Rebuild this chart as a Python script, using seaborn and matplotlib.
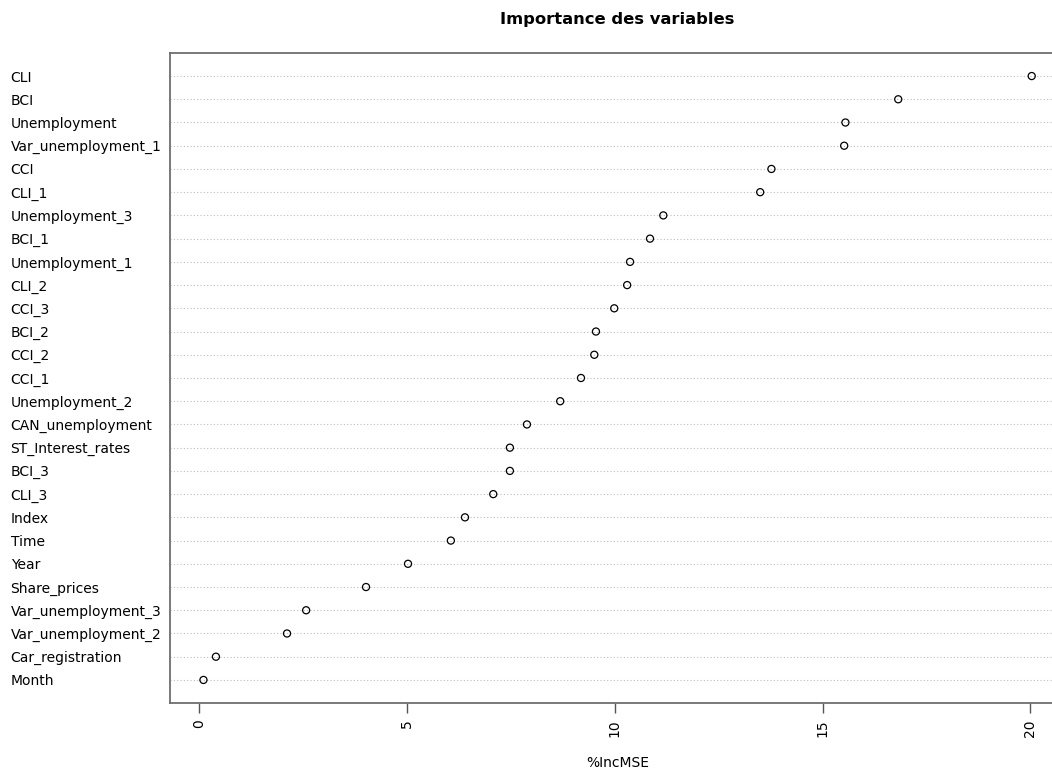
import matplotlib
matplotlib.use("Agg")
import matplotlib.pyplot as plt
import seaborn as sns
import pandas as pd

variables = ["CLI", "BCI", "Unemployment", "Var_unemployment_1", "CCI", "CLI_1",
             "Unemployment_3", "BCI_1", "Unemployment_1", "CLI_2", "CCI_3", "BCI_2",
             "CCI_2", "CCI_1", "Unemployment_2", "CAN_unemployment", "ST_Interest_rates",
             "BCI_3", "CLI_3", "Index", "Time", "Year", "Share_prices",
             "Var_unemployment_3", "Var_unemployment_2", "Car_registration", "Month"]
inc_mse = [20.03, 16.82, 15.55, 15.52, 13.77, 13.50, 11.17, 10.85, 10.37, 10.30,
           9.99, 9.55, 9.51, 9.19, 8.69, 7.89, 7.48, 7.48, 7.08, 6.40, 6.06,
           5.03, 4.02, 2.58, 2.12, 0.41, 0.11]
x_ticks = [0, 5, 10, 15, 20]

df = pd.DataFrame({"variable": variables, "IncMSE": inc_mse})

sns.set_style("white")
plt.rcParams['font.family'] = ['DejaVu Sans']
plt.rcParams['text.color'] = 'black'
plt.rcParams['axes.labelcolor'] = 'black'

fig = plt.figure(figsize=(10.52, 7.70), dpi=100)
ax = fig.add_axes([0.1619, 0.0874, 0.8503, 0.8434])

lo, hi = min(inc_mse), max(inc_mse)
ext = 0.04 * (hi - lo)

for i in range(len(variables)):
    ax.axhline(i, color="#bdbdbd", linestyle=(0, (1.0, 2.0)), linewidth=0.8, zorder=1)

sns.scatterplot(data=df, x="IncMSE", y="variable", ax=ax, marker="o", s=26,
                facecolor="none", edgecolor="black", linewidth=0.9, zorder=3, legend=False)

ax.set_xlim(lo - ext, hi + ext)
ax.set_ylim(len(variables) - 1 + 0.98, -0.98)
ax.set_xticks(x_ticks)
ax.set_xticklabels([str(t) for t in x_ticks], rotation=90, fontsize=10)
ax.tick_params(axis="x", bottom=True, length=7, width=1, color="#555555",
               labelcolor="black", pad=5)
ax.tick_params(axis="y", left=False, length=0, pad=115, labelcolor="black")
for lab in ax.get_yticklabels():
    lab.set_ha("left")
    lab.set_fontsize(10)

for side in ["top", "left", "bottom", "right"]:
    ax.spines[side].set_color("#6e6e6e")
    ax.spines[side].set_linewidth(1.3)

ax.set_ylabel("")
ax.set_xlabel("%IncMSE", fontsize=10, labelpad=14)
ax.set_title("Importance des variables", fontsize=11.8, fontweight="bold", pad=21)

fig.savefig("out.png", dpi=100)
